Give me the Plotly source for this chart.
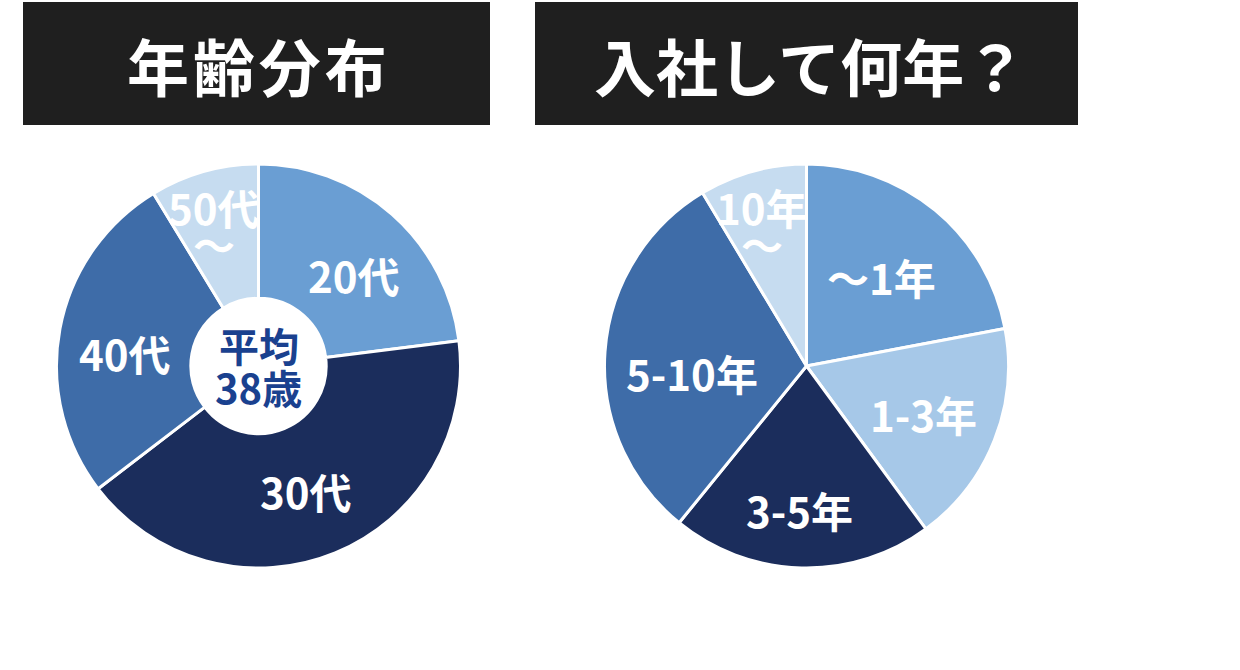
import math
import plotly.graph_objects as go

W, H = 1240, 670

# ---- data ----
titles = ["年\u200a齢\u200a分\u200a布", "入社して何年？"]
age_labels = ["20代", "30代", "40代", "50代<br>〜"]
age_values = [23.0, 41.6, 26.7, 8.7]
tenure_labels = ["〜1年", "1-3年", "3-5年", "5-10年", "10年<br>〜"]
tenure_values = [22.0, 17.9, 20.9, 30.5, 8.6]
avg_text = "平均<br>38歳"

# ---- style ----
age_colors = ["#6a9ed3", "#1b2d5c", "#3e6ca8", "#c6dcf0"]
tenure_colors = ["#6a9ed3", "#a6c8e8", "#1b2d5c", "#3e6ca8", "#c6dcf0"]
age_label_r = [0.655, 0.66, 0.665, 0.73]
age_label_dang = [4.7, 1.6, -4.7, -2.0]
tenure_label_r = [0.575, 0.625, 0.71, 0.57, 0.73]
tenure_label_dang = [0.3, 0.7, 1.2, -7.5, -2.0]
FONT = "Noto Sans CJK JP"

pies = [
    dict(cx=258.5, cy=366, r=202, labels=age_labels, values=age_values,
         colors=age_colors, lr=age_label_r, da=age_label_dang, hole=0.335,
         box=(23, 490)),
    dict(cx=806.5, cy=366, r=202, labels=tenure_labels, values=tenure_values,
         colors=tenure_colors, lr=tenure_label_r, da=tenure_label_dang, hole=0,
         box=(535, 1078)),
]

fig = go.Figure()
annotations = []
shapes = []

for i, p in enumerate(pies):
    x0 = (p["cx"] - p["r"]) / W
    x1 = (p["cx"] + p["r"]) / W
    y0 = 1 - (p["cy"] + p["r"]) / H
    y1 = 1 - (p["cy"] - p["r"]) / H
    fig.add_trace(go.Pie(
        labels=[l.replace("<br>", "") for l in p["labels"]],
        values=p["values"],
        sort=False, direction="clockwise", rotation=0,
        hole=p["hole"],
        marker=dict(colors=p["colors"], line=dict(color="white", width=3)),
        textinfo="none", hoverinfo="label+percent",
        domain=dict(x=[x0, x1], y=[y0, y1]),
        showlegend=False,
    ))
    total = sum(p["values"])
    cum = 0.0
    for lab, v, rr, da in zip(p["labels"], p["values"], p["lr"], p["da"]):
        mid = (cum + v / 2) / total * 2 * math.pi + math.radians(da)
        cum += v
        px = p["cx"] + rr * p["r"] * math.sin(mid)
        py = p["cy"] - rr * p["r"] * math.cos(mid)
        lines = lab.split("<br>")
        for k, ln in enumerate(lines):
            off = (k - (len(lines) - 1) / 2) * 37
            annotations.append(dict(
                x=px / W, y=1 - (py + off) / H, xref="paper", yref="paper",
                text=ln, showarrow=False, xanchor="center", yanchor="middle",
                font=dict(family=FONT, size=42, color="white", weight="bold"),
            ))
    # title box
    bx0, bx1 = p["box"]
    shapes.append(dict(type="rect", xref="paper", yref="paper",
                       x0=bx0 / W, x1=bx1 / W, y0=1 - 125 / H, y1=1 - 2 / H,
                       fillcolor="#1f1f1f", line=dict(width=0), layer="above"))
    annotations.append(dict(
        x=(bx0 + bx1) / 2 / W + (4 / W if i == 1 else 0), y=1 - 65 / H,
        xref="paper", yref="paper",
        text=titles[i], showarrow=False, xanchor="center", yanchor="middle",
        font=dict(family=FONT, size=62, color="white", weight="bold"),
    ))

# average in centre of age pie
avg_lines = avg_text.split("<br>")
for k, ln in enumerate(avg_lines):
    off = (k - (len(avg_lines) - 1) / 2) * 43
    annotations.append(dict(
        x=pies[0]["cx"] / W, y=1 - (pies[0]["cy"] + off) / H,
        xref="paper", yref="paper",
        text=ln, showarrow=False, xanchor="center", yanchor="middle",
        font=dict(family=FONT, size=40, color="#1a418f", weight="bold"),
    ))

fig.update_layout(
    width=W, height=H,
    margin=dict(l=0, r=0, t=0, b=0),
    paper_bgcolor="white", plot_bgcolor="white",
    annotations=annotations, shapes=shapes,
    font=dict(family=FONT),
)

fig.write_html("out.html", config={"displayModeBar": False},
               post_script="document.body.style.margin='0';")
